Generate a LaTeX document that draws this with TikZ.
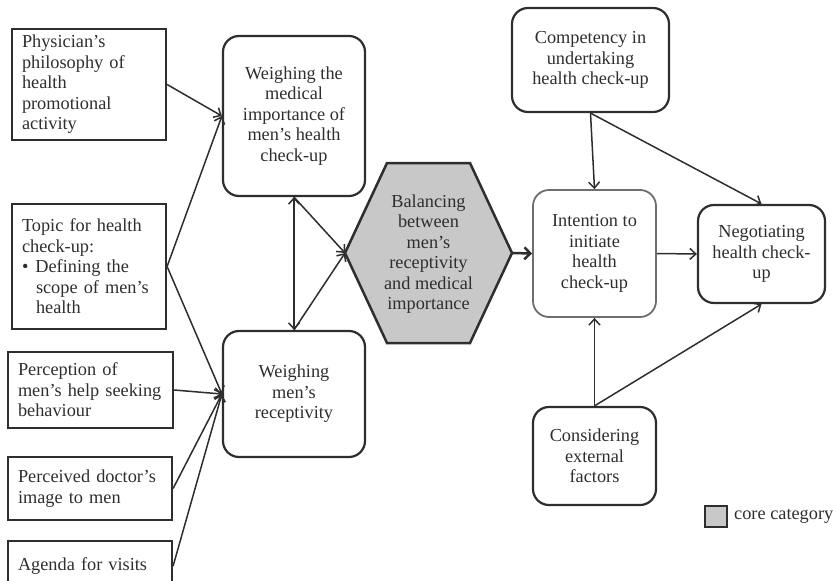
\documentclass[tikz,border=0pt]{standalone}
\usepackage{fontspec}
\setmainfont{Liberation Serif}
\usetikzlibrary{arrows.meta}
\definecolor{ln}{HTML}{2E2E2E}
\definecolor{core}{HTML}{C8C8C8}
\definecolor{soft}{HTML}{6E6E6E}
\begin{document}
\begin{tikzpicture}[x=1pt,y=-1pt,
  font=\fontsize{18.3}{20.5}\selectfont,
  sq/.style={draw=ln, line width=2.2pt, inner sep=0pt, text=ln},
  rb/.style={sq, rounded corners=16pt, align=center},
  lbox/.style={sq, align=left, inner xsep=10pt},
  arr/.style={draw=ln, line width=1.5pt, -{Straight Barb[length=6pt,width=11pt]}},
  arrs/.style={draw=ln, line width=1.5pt, {Straight Barb[length=6pt,width=11pt]}-{Straight Barb[length=6pt,width=11pt]}},
]
\useasboundingbox (0,0) rectangle (833,581);

% left boxes
\node[lbox, text width=134pt, minimum width=154pt, minimum height=111pt] (phys) at (89,84.5)
  {Physician's\\philosophy of\\health\\promotional\\activity};
\node[lbox, text width=134pt, minimum width=154pt, minimum height=125pt] (topic) at (89,266.5)
  {Topic for health\\check-up:\\\textbullet\hspace{7pt}Defining the\\\hspace*{14pt}scope of men's\\\hspace*{14pt}health};
\node[lbox, text width=145pt, minimum width=165pt, minimum height=76pt] (perc) at (90.5,390)
  {Perception of\\men's help seeking\\behaviour};
\node[lbox, text width=144pt, minimum width=164pt, minimum height=63pt] (doc) at (90,488.5)
  {Perceived doctor's\\image to men};
\node[lbox, text width=144pt, minimum width=164pt, minimum height=50pt] (agenda) at (90,566)
  {Agenda for visits};

% middle boxes
\node[rb, minimum width=142pt, minimum height=160pt] (wmed) at (294,116)
  {Weighing the\\medical\\importance of\\men's health\\check-up};
\node[rb, minimum width=142pt, minimum height=126pt] (wrec) at (294,394)
  {Weighing\\men's\\receptivity};

% core hexagon
\draw[fill=core, draw=ln, line width=2.5pt]
  (387,163) -- (470,163) -- (512,253) -- (470,343) -- (387,343) -- (345,253) -- cycle;
\coordinate (hexL) at (345,253);
\coordinate (hexR) at (512,253);
\node[align=center, text=ln] (hex) at (428.5,254)
  {Balancing\\between\\men's\\receptivity\\and medical\\importance};

% right boxes
\node[rb, draw=soft, line width=1.8pt, minimum width=123pt, minimum height=127pt] (intent) at (594.5,253.5)
  {Intention to\\initiate\\health\\check-up};
\node[rb, minimum width=157pt, minimum height=104pt] (comp) at (590.5,60)
  {Competency in\\undertaking\\health check-up};
\node[rb, minimum width=127pt, minimum height=98pt] (nego) at (761.5,254)
  {Negotiating\\health check-\\up};
\node[rb, minimum width=123pt, minimum height=98pt] (cons) at (594.5,456)
  {Considering\\external\\factors};

% legend
\node[draw=ln, line width=1.5pt, fill=core, minimum width=22pt, minimum height=21pt, inner sep=0pt] (leg) at (716,516.5) {};
\node[anchor=west, text=ln, inner sep=2pt] (legt) at (732,516.5) {core category};

% connectors
\draw[arr] (phys.east) -- (wmed.west);
\draw[arr] (topic.east) -- (wmed.west);
\draw[arr] (topic.east) -- (wrec.west);
\draw[arr] (perc.east) -- (wrec.west);
\draw[arr] (doc.east) -- (wrec.west);
\draw[arr] (agenda.east) -- (wrec.west);
\draw[arrs] (wmed.south) -- (wrec.north);
\draw[arr] (wmed.south) -- (hexL);
\draw[arr] (wrec.north) -- (hexL);
\draw[draw=ln, line width=2.5pt, -{Straight Barb[length=6pt,width=12pt]}] (hexR) -- (intent.west);
\draw[arr] (intent.east) -- (nego.west);
\draw[arr] (comp.south) -- (intent.north);
\draw[arr] (comp.south) -- (nego.north);
\draw[arr] (cons.north) -- (intent.south);
\draw[arr] (cons.north) -- (nego.south);
\end{tikzpicture}
\end{document}
